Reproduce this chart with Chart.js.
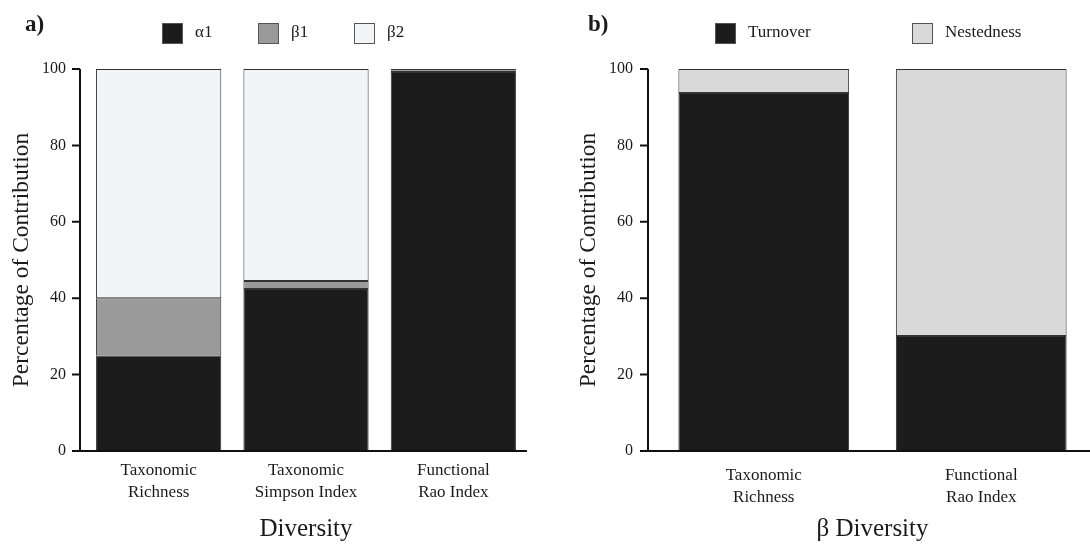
<!DOCTYPE html>
<html>
<head>
<meta charset="utf-8">
<script src="https://cdn.jsdelivr.net/npm/chart.js@4.4.1/dist/chart.umd.min.js"></script>
<style>
  html, body { margin: 0; padding: 0; background: #fff; overflow: hidden; }
  #wrap { position: relative; width: 1090px; height: 544px; }
  canvas { position: absolute; top: 0; }
  #left { left: 0; }
  #right { left: 545px; }
</style>
</head>
<body>
<div id="wrap">
  <canvas id="left" width="560" height="544"></canvas>
  <canvas id="right" width="545" height="544"></canvas>
</div>
<script>
// panel a: partition of diversity
var diversityLabels = [["Taxonomic", "Richness"], ["Taxonomic", "Simpson Index"], ["Functional", "Rao Index"]];
var alpha1 = [25, 42.4, 99.2];
var beta1 = [15, 2.1, 0.4];
var beta2 = [60, 55.5, 0.4];

// panel b: beta diversity components
var betaLabels = [["Taxonomic", "Richness"], ["Functional", "Rao Index"]];
var turnover = [93.7, 30.1];
var nestedness = [6.3, 69.9];

var yMin = 0, yMax = 100, yStep = 20;

var serif = '"Liberation Serif", "Times New Roman", serif';
var ink = "#1a1a1a";

// square legend keys plus the panel tag
var boxLegend = {
  id: "boxLegend",
  afterDraw: function (chart, args, opts) {
    var ctx = chart.ctx;
    ctx.save();
    ctx.font = "bold 23px " + serif;
    ctx.fillStyle = ink;
    ctx.textBaseline = "alphabetic";
    ctx.fillText(opts.tag, opts.tagX, 31);

    ctx.font = "17px " + serif;
    ctx.textBaseline = "middle";
    chart.data.datasets.forEach(function (ds, i) {
      var x = opts.x + i * opts.step;
      ctx.fillStyle = ds.backgroundColor;
      ctx.fillRect(x, opts.y, 21, 21);
      ctx.strokeStyle = "#555";
      ctx.lineWidth = 1;
      ctx.strokeRect(x + 0.5, opts.y + 0.5, 20, 20);
      ctx.fillStyle = ink;
      ctx.fillText(ds.label, x + 33, opts.y + 10);
    });
    ctx.restore();
  }
};

// detached y axis with outward ticks, and the base line
var axisLines = {
  id: "axisLines",
  afterDatasetsDraw: function (chart, args, opts) {
    var ctx = chart.ctx, area = chart.chartArea, y = chart.scales.y;
    var ax = area.left - opts.gap;
    var top = y.getPixelForValue(yMax), base = y.getPixelForValue(yMin);
    ctx.save();
    ctx.strokeStyle = "#111";
    ctx.lineWidth = 2;
    ctx.beginPath();
    ctx.moveTo(ax, top);
    ctx.lineTo(ax, base);
    y.ticks.forEach(function (t) {
      var py = y.getPixelForValue(t.value);
      ctx.moveTo(ax - 8, py);
      ctx.lineTo(ax, py);
    });
    ctx.moveTo(ax, base);
    ctx.lineTo(area.right, base);
    ctx.stroke();
    ctx.restore();
  }
};

function makeDataset(label, data, color, barPct) {
  return {
    label: label,
    data: data,
    backgroundColor: color,
    borderColor: "#333",
    borderWidth: 1,
    borderSkipped: false,
    barPercentage: barPct,
    categoryPercentage: 1
  };
}

function makeOptions(p) {
  return {
    responsive: false,
    animation: false,
    layout: { padding: { top: 69, right: p.padRight, bottom: 0, left: 0 } },
    plugins: {
      legend: { display: false },
      tooltip: { enabled: false },
      boxLegend: p.legend,
      axisLines: { gap: p.gap }
    },
    scales: {
      x: {
        stacked: true,
        grid: { display: false, drawTicks: false },
        border: { display: false },
        ticks: { color: ink, font: { family: serif, size: 17, lineHeight: 1.3 }, padding: p.xTickPad, maxRotation: 0 },
        title: { display: true, text: p.xTitle, color: ink, font: { family: serif, size: 25 }, padding: { top: p.xTitlePad, bottom: 0 } },
        afterFit: function (s) { s.height = 93; }
      },
      y: {
        stacked: true,
        min: yMin,
        max: yMax,
        grid: { display: false, drawTicks: false },
        border: { display: false },
        ticks: { stepSize: yStep, color: ink, font: { family: serif, size: 16 }, padding: p.yTickPad },
        title: { display: true, text: "Percentage of Contribution", color: ink, font: { family: serif, size: 23.5 }, padding: { top: p.yTitlePad, bottom: 0 } },
        afterFit: function (s) { s.width = p.yWidth; }
      }
    }
  };
}

new Chart(document.getElementById("left"), {
  type: "bar",
  data: {
    labels: diversityLabels,
    datasets: [
      makeDataset("\u03b11", alpha1, "#1c1c1c", 0.85),
      makeDataset("\u03b21", beta1, "#9a9a9a", 0.85),
      makeDataset("\u03b22", beta2, "#f3f4f6", 0.85)
    ]
  },
  options: makeOptions({
    padRight: 33, yWidth: 85, gap: 5, yTickPad: 19, yTitlePad: 8,
    xTickPad: 8, xTitlePad: 15, xTitle: "Diversity",
    legend: { tag: "a)", tagX: 25, x: 162, step: 96, y: 23 }
  }),
  plugins: [boxLegend, axisLines]
});

new Chart(document.getElementById("right"), {
  type: "bar",
  data: {
    labels: betaLabels,
    datasets: [
      makeDataset("Turnover", turnover, "#1c1c1c", 0.785),
      makeDataset("Nestedness", nestedness, "#d9d9d9", 0.785)
    ]
  },
  options: makeOptions({
    padRight: 0, yWidth: 110, gap: 7, yTickPad: 22, yTitlePad: 30,
    xTickPad: 13, xTitlePad: 4, xTitle: "\u03b2 Diversity",
    legend: { tag: "b)", tagX: 43, x: 170, step: 197, y: 23 }
  }),
  plugins: [boxLegend, axisLines]
});
</script>
</body>
</html>
